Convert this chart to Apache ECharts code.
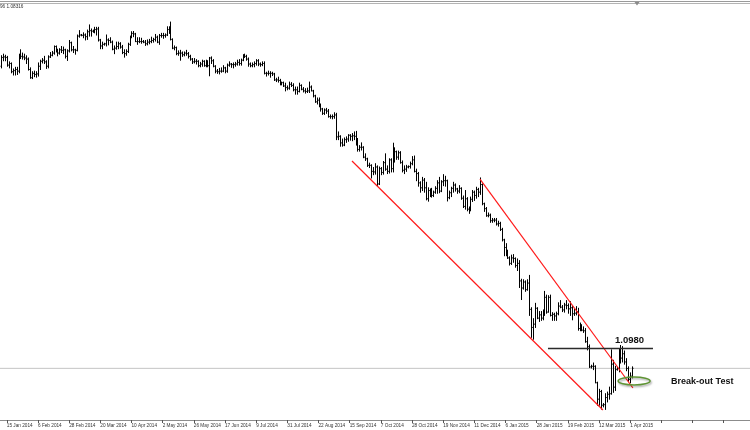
<!DOCTYPE html>
<html><head><meta charset="utf-8">
<script src="https://cdn.jsdelivr.net/npm/echarts@6/dist/echarts.min.js"></script>
<style>html,body{margin:0;padding:0;background:#fff}#c{width:750px;height:430px}</style>
</head><body><div id="c"></div>
<script>
// ---- data ----
const tickLabels = ['15 Jan 2014','6 Feb 2014','28 Feb 2014','20 Mar 2014','10 Apr 2014','2 May 2014','26 May 2014','17 Jun 2014','9 Jul 2014','31 Jul 2014','22 Aug 2014','15 Sep 2014','7 Oct 2014','28 Oct 2014','19 Nov 2014','11 Dec 2014','6 Jan 2015','28 Jan 2015','19 Feb 2015','12 Mar 2015','1 Apr 2015'];
const firstTickIndex = 3;
const barsPerTick = 16;
const totalSlots = 385;
// daily bars: [open, high, low, close]
const bars = [
[1.3590,1.3686,1.3575,1.3670],[1.3670,1.3700,1.3640,1.3675],[1.3675,1.3690,1.3640,1.3670],[1.3670,1.3680,1.3590,1.3600],
[1.3600,1.3630,1.3575,1.3615],[1.3615,1.3620,1.3530,1.3540],[1.3540,1.3565,1.3510,1.3550],[1.3550,1.3580,1.3510,1.3560],
[1.3560,1.3580,1.3515,1.3545],[1.3545,1.3700,1.3530,1.3690],[1.3690,1.3740,1.3660,1.3680],[1.3680,1.3710,1.3655,1.3675],
[1.3675,1.3700,1.3650,1.3665],[1.3665,1.3685,1.3615,1.3655],[1.3655,1.3665,1.3555,1.3560],[1.3560,1.3575,1.3480,1.3485],
[1.3485,1.3540,1.3477,1.3525],[1.3525,1.3545,1.3495,1.3515],[1.3515,1.3540,1.3490,1.3520],[1.3520,1.3620,1.3500,1.3590],
[1.3590,1.3645,1.3560,1.3635],[1.3635,1.3660,1.3620,1.3645],[1.3645,1.3680,1.3615,1.3630],[1.3630,1.3640,1.3570,1.3590],
[1.3590,1.3685,1.3575,1.3675],[1.3675,1.3715,1.3670,1.3690],[1.3690,1.3725,1.3685,1.3710],[1.3710,1.3775,1.3700,1.3770],
[1.3770,1.3775,1.3720,1.3735],[1.3735,1.3745,1.3685,1.3710],[1.3710,1.3750,1.3700,1.3740],[1.3740,1.3770,1.3715,1.3735],
[1.3735,1.3765,1.3705,1.3740],[1.3740,1.3745,1.3665,1.3680],[1.3680,1.3740,1.3643,1.3730],[1.3730,1.3825,1.3720,1.3805],
[1.3805,1.3810,1.3730,1.3740],[1.3740,1.3770,1.3715,1.3740],[1.3740,1.3745,1.3700,1.3735],[1.3735,1.3875,1.3730,1.3865],
[1.3865,1.3915,1.3855,1.3875],[1.3875,1.3880,1.3868,1.3872],[1.3872,1.3895,1.3850,1.3875],[1.3875,1.3885,1.3830,1.3860],
[1.3860,1.3920,1.3835,1.3905],[1.3905,1.3967,1.3865,1.3915],[1.3915,1.3930,1.3865,1.3910],[1.3910,1.3920,1.3900,1.3912],
[1.3912,1.3945,1.3895,1.3925],[1.3925,1.3945,1.3875,1.3930],[1.3930,1.3945,1.3820,1.3830],[1.3830,1.3835,1.3750,1.3775],
[1.3775,1.3810,1.3750,1.3790],[1.3790,1.3800,1.3782,1.3795],[1.3795,1.3875,1.3775,1.3830],[1.3830,1.3840,1.3785,1.3825],
[1.3825,1.3850,1.3805,1.3810],[1.3810,1.3820,1.3740,1.3745],[1.3745,1.3775,1.3705,1.3755],[1.3755,1.3810,1.3745,1.3770],
[1.3770,1.3810,1.3750,1.3795],[1.3795,1.3805,1.3755,1.3765],[1.3765,1.3780,1.3705,1.3715],[1.3715,1.3740,1.3673,1.3705],
[1.3705,1.3740,1.3690,1.3725],[1.3725,1.3800,1.3715,1.3790],[1.3790,1.3865,1.3780,1.3855],[1.3855,1.3905,1.3850,1.3890],
[1.3890,1.3907,1.3860,1.3885],[1.3885,1.3890,1.3815,1.3815],[1.3815,1.3850,1.3790,1.3815],[1.3815,1.3850,1.3805,1.3815],
[1.3815,1.3845,1.3800,1.3815],[1.3815,1.3825,1.3805,1.3810],[1.3810,1.3825,1.3780,1.3795],[1.3795,1.3830,1.3785,1.3810],
[1.3810,1.3835,1.3795,1.3815],[1.3815,1.3855,1.3805,1.3825],[1.3825,1.3845,1.3810,1.3835],[1.3835,1.3880,1.3820,1.3855],
[1.3855,1.3865,1.3805,1.3810],[1.3810,1.3880,1.3790,1.3870],[1.3870,1.3890,1.3855,1.3870],[1.3870,1.3890,1.3845,1.3870],
[1.3870,1.3885,1.3855,1.3875],[1.3875,1.3950,1.3870,1.3925],[1.3925,1.3950,1.3890,1.3910],[1.3910,1.3993,1.3830,1.3835],
[1.3835,1.3840,1.3750,1.3755],[1.3755,1.3775,1.3740,1.3760],[1.3760,1.3765,1.3695,1.3705],[1.3705,1.3730,1.3690,1.3710],
[1.3710,1.3735,1.3645,1.3710],[1.3710,1.3720,1.3680,1.3695],[1.3695,1.3720,1.3685,1.3710],[1.3710,1.3735,1.3690,1.3705],
[1.3705,1.3715,1.3665,1.3680],[1.3680,1.3690,1.3645,1.3655],[1.3655,1.3660,1.3615,1.3630],[1.3630,1.3660,1.3620,1.3635],
[1.3635,1.3650,1.3610,1.3635],[1.3635,1.3640,1.3585,1.3595],[1.3595,1.3625,1.3585,1.3610],[1.3610,1.3645,1.3590,1.3635],
[1.3635,1.3640,1.3590,1.3595],[1.3595,1.3645,1.3585,1.3630],[1.3630,1.3640,1.3585,1.3595],[1.3595,1.3670,1.3503,1.3665],
[1.3665,1.3675,1.3615,1.3640],[1.3640,1.3650,1.3585,1.3590],[1.3590,1.3595,1.3530,1.3545],[1.3545,1.3560,1.3525,1.3540],
[1.3540,1.3570,1.3520,1.3545],[1.3545,1.3575,1.3535,1.3545],[1.3545,1.3595,1.3540,1.3575],[1.3575,1.3580,1.3530,1.3545],
[1.3545,1.3610,1.3535,1.3600],[1.3600,1.3630,1.3590,1.3610],[1.3610,1.3615,1.3580,1.3605],[1.3605,1.3620,1.3575,1.3605],
[1.3605,1.3625,1.3590,1.3610],[1.3610,1.3645,1.3600,1.3625],[1.3625,1.3650,1.3600,1.3615],[1.3615,1.3655,1.3600,1.3645],
[1.3645,1.3695,1.3640,1.3690],[1.3690,1.3700,1.3670,1.3680],[1.3680,1.3690,1.3645,1.3655],[1.3655,1.3665,1.3590,1.3610],
[1.3610,1.3620,1.3585,1.3595],[1.3595,1.3620,1.3585,1.3605],[1.3605,1.3630,1.3585,1.3615],[1.3615,1.3650,1.3600,1.3640],
[1.3640,1.3650,1.3595,1.3610],[1.3610,1.3620,1.3590,1.3605],[1.3605,1.3630,1.3595,1.3615],[1.3615,1.3630,1.3520,1.3525],
[1.3525,1.3535,1.3500,1.3525],[1.3525,1.3545,1.3510,1.3525],[1.3525,1.3540,1.3490,1.3525],[1.3525,1.3535,1.3505,1.3520],
[1.3520,1.3525,1.3460,1.3465],[1.3465,1.3480,1.3450,1.3465],[1.3465,1.3490,1.3445,1.3460],[1.3460,1.3470,1.3420,1.3430],
[1.3430,1.3445,1.3420,1.3440],[1.3440,1.3445,1.3405,1.3410],[1.3410,1.3435,1.3365,1.3395],[1.3395,1.3410,1.3375,1.3390],
[1.3390,1.3445,1.3380,1.3425],[1.3425,1.3440,1.3405,1.3415],[1.3415,1.3430,1.3365,1.3375],[1.3375,1.3400,1.3335,1.3375],
[1.3375,1.3400,1.3335,1.3360],[1.3360,1.3435,1.3355,1.3415],[1.3415,1.3420,1.3375,1.3380],[1.3380,1.3395,1.3355,1.3365],
[1.3365,1.3385,1.3345,1.3360],[1.3360,1.3390,1.3350,1.3365],[1.3365,1.3445,1.3350,1.3400],[1.3400,1.3410,1.3365,1.3365],
[1.3365,1.3370,1.3310,1.3320],[1.3320,1.3325,1.3260,1.3265],[1.3265,1.3300,1.3245,1.3280],[1.3280,1.3300,1.3220,1.3240],
[1.3240,1.3245,1.3180,1.3200],[1.3200,1.3205,1.3150,1.3160],[1.3160,1.3200,1.3150,1.3190],[1.3190,1.3205,1.3160,1.3180],
[1.3180,1.3195,1.3125,1.3130],[1.3130,1.3145,1.3115,1.3130],[1.3130,1.3145,1.3110,1.3130],[1.3130,1.3165,1.3115,1.3145],
[1.3145,1.3160,1.2920,1.2945],[1.2945,1.2990,1.2920,1.2950],[1.2950,1.2955,1.2860,1.2890],[1.2890,1.2925,1.2860,1.2870],
[1.2870,1.2935,1.2865,1.2920],[1.2920,1.2945,1.2895,1.2925],[1.2925,1.2965,1.2905,1.2960],[1.2960,1.2965,1.2915,1.2950],
[1.2950,1.2975,1.2910,1.2955],[1.2955,1.2990,1.2920,1.2950],[1.2950,1.2995,1.2870,1.2920],[1.2920,1.2930,1.2815,1.2830],
[1.2830,1.2865,1.2815,1.2850],[1.2850,1.2890,1.2825,1.2850],[1.2850,1.2855,1.2755,1.2760],[1.2760,1.2790,1.2730,1.2745],
[1.2745,1.2750,1.2675,1.2685],[1.2685,1.2705,1.2665,1.2685],[1.2685,1.2690,1.2570,1.2630],[1.2630,1.2665,1.2600,1.2625],
[1.2625,1.2700,1.2605,1.2670],[1.2670,1.2680,1.2500,1.2515],[1.2515,1.2670,1.2510,1.2655],[1.2655,1.2665,1.2600,1.2620],
[1.2620,1.2720,1.2605,1.2710],[1.2710,1.2790,1.2640,1.2650],[1.2650,1.2680,1.2610,1.2630],[1.2630,1.2745,1.2615,1.2735],
[1.2735,1.2745,1.2625,1.2655],[1.2655,1.2887,1.2625,1.2830],[1.2830,1.2845,1.2715,1.2810],[1.2810,1.2815,1.2740,1.2760],
[1.2760,1.2815,1.2740,1.2800],[1.2800,1.2810,1.2705,1.2710],[1.2710,1.2725,1.2625,1.2640],[1.2640,1.2680,1.2610,1.2650],
[1.2650,1.2685,1.2630,1.2670],[1.2670,1.2680,1.2662,1.2675],[1.2675,1.2715,1.2660,1.2700],[1.2700,1.2765,1.2690,1.2735],
[1.2735,1.2770,1.2625,1.2630],[1.2630,1.2650,1.2545,1.2610],[1.2610,1.2620,1.2495,1.2525],[1.2525,1.2535,1.2440,1.2480],
[1.2480,1.2575,1.2455,1.2550],[1.2550,1.2565,1.2440,1.2480],[1.2480,1.2530,1.2370,1.2380],[1.2380,1.2480,1.2358,1.2455],
[1.2455,1.2470,1.2400,1.2410],[1.2410,1.2475,1.2395,1.2410],[1.2410,1.2450,1.2400,1.2440],[1.2440,1.2490,1.2430,1.2475],
[1.2475,1.2545,1.2430,1.2525],[1.2525,1.2575,1.2435,1.2450],[1.2450,1.2545,1.2445,1.2535],[1.2535,1.2600,1.2500,1.2545],
[1.2545,1.2585,1.2495,1.2545],[1.2545,1.2550,1.2360,1.2390],[1.2390,1.2450,1.2380,1.2435],[1.2435,1.2485,1.2400,1.2475],
[1.2475,1.2530,1.2440,1.2505],[1.2505,1.2515,1.2450,1.2470],[1.2470,1.2475,1.2430,1.2450],[1.2450,1.2500,1.2435,1.2475],
[1.2475,1.2480,1.2375,1.2385],[1.2385,1.2405,1.2300,1.2310],[1.2310,1.2455,1.2285,1.2380],[1.2380,1.2390,1.2270,1.2285],
[1.2285,1.2305,1.2247,1.2290],[1.2290,1.2395,1.2270,1.2375],[1.2375,1.2455,1.2355,1.2440],[1.2440,1.2450,1.2365,1.2410],
[1.2410,1.2485,1.2385,1.2465],[1.2465,1.2475,1.2400,1.2440],[1.2440,1.2570,1.2420,1.2510],[1.2510,1.2515,1.2325,1.2335],
[1.2335,1.2340,1.2265,1.2290],[1.2290,1.2300,1.2220,1.2225],[1.2225,1.2250,1.2215,1.2230],[1.2230,1.2240,1.2165,1.2180],
[1.2180,1.2200,1.2165,1.2185],[1.2185,1.2200,1.2170,1.2185],[1.2185,1.2200,1.2140,1.2150],[1.2150,1.2175,1.2130,1.2155],
[1.2155,1.2165,1.2090,1.2100],[1.2100,1.2110,1.1995,1.2005],[1.2005,1.2010,1.1860,1.1935],[1.1935,1.1970,1.1860,1.1890],
[1.1890,1.1910,1.1835,1.1840],[1.1840,1.1850,1.1775,1.1790],[1.1790,1.1865,1.1780,1.1840],[1.1840,1.1870,1.1800,1.1835],
[1.1835,1.1840,1.1755,1.1770],[1.1770,1.1830,1.1725,1.1790],[1.1790,1.1815,1.1570,1.1630],[1.1630,1.1645,1.1460,1.1565],
[1.1565,1.1640,1.1555,1.1620],[1.1620,1.1630,1.1535,1.1550],[1.1550,1.1640,1.1545,1.1610],[1.1610,1.1680,1.1315,1.1370],
[1.1370,1.1385,1.1115,1.1205],[1.1205,1.1285,1.1098,1.1235],[1.1235,1.1425,1.1205,1.1380],[1.1380,1.1385,1.1285,1.1290],
[1.1290,1.1350,1.1260,1.1320],[1.1320,1.1350,1.1270,1.1290],[1.1290,1.1365,1.1275,1.1340],[1.1340,1.1534,1.1315,1.1480],
[1.1480,1.1500,1.1335,1.1345],[1.1345,1.1495,1.1345,1.1480],[1.1480,1.1500,1.1310,1.1315],[1.1315,1.1340,1.1270,1.1325],
[1.1325,1.1335,1.1270,1.1310],[1.1310,1.1345,1.1270,1.1330],[1.1330,1.1430,1.1320,1.1400],[1.1400,1.1450,1.1385,1.1390],
[1.1390,1.1405,1.1350,1.1365],[1.1365,1.1425,1.1345,1.1410],[1.1410,1.1450,1.1375,1.1405],[1.1405,1.1420,1.1335,1.1375],
[1.1375,1.1440,1.1315,1.1385],[1.1385,1.1395,1.1275,1.1330],[1.1330,1.1370,1.1315,1.1335],[1.1335,1.1395,1.1320,1.1350],
[1.1350,1.1380,1.1180,1.1195],[1.1195,1.1245,1.1175,1.1195],[1.1195,1.1230,1.1175,1.1180],[1.1180,1.1210,1.1160,1.1175],
[1.1175,1.1195,1.1070,1.1075],[1.1075,1.1115,1.1000,1.1030],[1.1030,1.1045,1.0840,1.0845],[1.0845,1.0860,1.0835,1.0850],
[1.0850,1.0880,1.0820,1.0850],[1.0850,1.0855,1.0700,1.0700],[1.0700,1.0705,1.0495,1.0550],[1.0550,1.0640,1.0495,1.0620],
[1.0620,1.0630,1.0460,1.0495],[1.0495,1.0510,1.0480,1.0500],[1.0500,1.0600,1.0457,1.0565],[1.0565,1.0615,1.0525,1.0595],
[1.0595,1.0660,1.0550,1.0600],[1.0600,1.1000,1.0596,1.0870],[1.0870,1.0905,1.0613,1.0660],[1.0660,1.0850,1.0630,1.0820],
[1.0820,1.0840,1.0815,1.0830],[1.0830,1.1005,1.0800,1.0940],[1.0940,1.1040,1.0880,1.0925],[1.0925,1.1030,1.0890,1.0965],
[1.0965,1.0990,1.0870,1.0890],[1.0890,1.0920,1.0810,1.0830],[1.0830,1.0845,1.0713,1.0730],[1.0730,1.0790,1.0700,1.0760],
[1.0760,1.0845,1.0745,1.0832]
];
const bidPrice = 1.08316;
const headerText = '96 1.08316';
const levelValue = 1.1013;
const levelText = '1.0980';
const levelSpan = [280.8, 334.7];          // bar-index range of the drawn level
const lowerTrend = [[180.2, 1.2725], [309.0, 1.0451]];
const upperTrend = [[245.9, 1.2560], [324.4, 1.0652]];
const levelLabelAt = [315.2, 1.1013];
const testText = 'Break-out Test';
const testLabelAt = [344.0, 1.0712];
const testCircleAt = [325.0, 1.0716];
const shiftMarkerAt = 326.5;

// ---- chart ----
const chart = echarts.init(document.getElementById('c'), null, {renderer: 'canvas'});
const categories = Array.from({length: totalSlots}, (_, i) => i);
const isTick = i => i >= firstTickIndex && (i - firstTickIndex) % barsPerTick === 0;

const option = {
  animation: false,
  backgroundColor: '#ffffff',
  grid: {left: 0, right: 0, top: 5, bottom: 10, containLabel: false},
  xAxis: [{
    type: 'category', data: categories, boundaryGap: true,
    axisLine: {show: true, lineStyle: {color: '#8c8c8c', width: 1}},
    axisTick: {show: true, alignWithLabel: true, length: 3, lineStyle: {color: '#555'},
      interval: (i) => isTick(i)},
    axisLabel: {show: true, interval: (i) => isTick(i), align: 'left', margin: 3,
      fontSize: 4.7, color: '#333', fontFamily: 'Liberation Sans',
      formatter: (v, i) => tickLabels[(i - firstTickIndex) / barsPerTick] || ''},
    splitLine: {show: false}
  }, {
    type: 'value', min: -0.5, max: totalSlots - 0.5, show: false
  }],
  yAxis: {type: 'value', min: 1.036, max: 1.4149, show: false, splitLine: {show: false}},
  series: [
    {
      type: 'line', xAxisIndex: 1, symbol: 'none', silent: true, z: 1,
      lineStyle: {color: '#c4c4c4', width: 1},
      data: [[-0.5, bidPrice], [totalSlots - 0.5, bidPrice]]
    },
    {
      type: 'custom', xAxisIndex: 0, z: 3,
      encode: {x: 0, y: [1, 2, 3, 4]},
      data: bars.map((b, i) => [i, b[0], b[1], b[2], b[3]]),
      renderItem: function (params, api) {
        const i = api.value(0);
        const pO = api.coord([i, api.value(1)]);
        const yH = api.coord([i, api.value(2)])[1];
        const yL = api.coord([i, api.value(3)])[1];
        const yC = api.coord([i, api.value(4)])[1];
        const x = Math.round(pO[0]) + 0.5;
        const st = {stroke: '#000', lineWidth: 1};
        return {type: 'group', children: [
          {type: 'line', shape: {x1: x, y1: yH - 0.5, x2: x, y2: yL + 0.5}, style: st},
          {type: 'line', shape: {x1: x - 1, y1: pO[1], x2: x, y2: pO[1]}, style: st},
          {type: 'line', shape: {x1: x, y1: yC, x2: x + 1, y2: yC}, style: st}
        ]};
      }
    },
    {
      type: 'line', xAxisIndex: 1, symbol: 'none', silent: true, z: 4,
      lineStyle: {color: '#ff1a1a', width: 1.2}, data: lowerTrend
    },
    {
      type: 'line', xAxisIndex: 1, symbol: 'none', silent: true, z: 4,
      lineStyle: {color: '#ff1a1a', width: 1.2}, data: upperTrend
    },
    {
      type: 'line', xAxisIndex: 1, symbol: 'none', silent: true, z: 4,
      lineStyle: {color: '#2b2b2b', width: 1.6},
      data: [[levelSpan[0], levelValue], [levelSpan[1], levelValue]]
    }
  ]
};
chart.setOption(option);

const px = (p) => chart.convertToPixel({xAxisIndex: 1, yAxisIndex: 0}, p);
const lp = px(levelLabelAt);
const tp = px(testLabelAt);
const cp = px(testCircleAt);
const sm = px([shiftMarkerAt, 1.4149]);
chart.setOption({
  graphic: [
    {type: 'line', shape: {x1: 0, y1: 1.5, x2: 750, y2: 1.5}, style: {stroke: '#9a9a9a', lineWidth: 1}, z: 10},
    {type: 'line', shape: {x1: 0, y1: 3.5, x2: 750, y2: 3.5}, style: {stroke: '#b4b4b4', lineWidth: 1}, z: 10},
    {type: 'polygon', shape: {points: [[sm[0] - 2.5, 2], [sm[0] + 2.5, 2], [sm[0], 5.5]]}, style: {fill: '#8a8a8a'}, z: 11},
    {type: 'text', x: 0, y: 7, style: {text: headerText, fontSize: 4.7, fill: '#333', fontFamily: 'Liberation Sans', verticalAlign: 'middle'}, z: 10},
    {type: 'text', x: lp[0], y: lp[1] - 3, style: {text: levelText, fontSize: 9.5, fontWeight: 'bold', fill: '#111', fontFamily: 'Liberation Sans', verticalAlign: 'bottom', align: 'left'}, z: 10},
    {type: 'ellipse', shape: {cx: cp[0], cy: cp[1], rx: 16, ry: 4}, style: {fill: 'none', stroke: '#5f9435', lineWidth: 1.5, shadowBlur: 2, shadowColor: 'rgba(0,0,0,0.35)', shadowOffsetX: 1, shadowOffsetY: 1.5}, z: 10},
    {type: 'text', x: tp[0], y: tp[1], style: {text: testText, fontSize: 9, fontWeight: 'bold', fill: '#111', fontFamily: 'Liberation Sans', verticalAlign: 'middle', align: 'left'}, z: 10}
  ]
});
</script></body></html>
